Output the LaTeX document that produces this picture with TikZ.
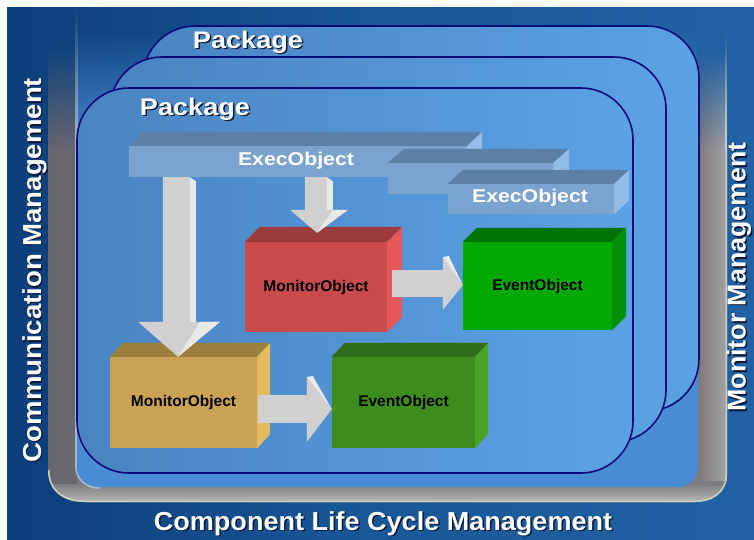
\documentclass[tikz,border=0pt]{standalone}
\usepackage{fontspec}
\setmainfont{Liberation Sans}
\usetikzlibrary{calc,fadings}
\definecolor{bgL}{HTML}{0C3E7A}
\definecolor{bgM}{HTML}{185898}
\definecolor{bgR}{HTML}{2062A4}
\definecolor{panelc}{HTML}{4A8CD4}
\definecolor{pkgL}{HTML}{4A84C2}
\definecolor{pkgR}{HTML}{5BA2E4}
\definecolor{pkgline}{HTML}{0A0A78}
\definecolor{bandc}{HTML}{807C80}
\definecolor{bandLo}{HTML}{66666C}
\definecolor{bandLm}{HTML}{8E8C90}
\definecolor{bandLi}{HTML}{6A686E}
\definecolor{bandRi}{HTML}{7E787C}
\definecolor{bandRm}{HTML}{6A6569}
\definecolor{bandRo}{HTML}{A4A4A6}
\definecolor{bandBi}{HTML}{7E7E82}
\definecolor{bandBm}{HTML}{9C9CA0}
\definecolor{bandBo}{HTML}{B8B8B4}
\definecolor{lineL}{HTML}{A4B6CA}
\definecolor{lineR}{HTML}{CCD2BC}
\definecolor{barF}{HTML}{7BA3CF}
\definecolor{barT}{HTML}{5B7FA5}
\definecolor{barS}{HTML}{93BDE8}
\definecolor{redF}{HTML}{C94B4B}
\definecolor{redT}{HTML}{9B3B3B}
\definecolor{redS}{HTML}{E35858}
\definecolor{grnF}{HTML}{00A800}
\definecolor{grnT}{HTML}{007400}
\definecolor{grnS}{HTML}{00900A}
\definecolor{tanF}{HTML}{C9A254}
\definecolor{tanT}{HTML}{9F7F3E}
\definecolor{tanS}{HTML}{E5BB62}
\definecolor{dgrF}{HTML}{3D8C1E}
\definecolor{dgrT}{HTML}{2F6D18}
\definecolor{dgrS}{HTML}{4AA326}
\definecolor{arrF}{HTML}{D0D0D0}
\definecolor{arrS}{HTML}{E9E9E9}
\definecolor{shadowc}{HTML}{0A1838}
\tikzfading[name=fadein, top color=transparent!100, bottom color=transparent!0]
\tikzset{
 pkgbox/.style={draw=pkgline, line width=1.6pt, left color=pkgL, right color=pkgR, rounded corners=52pt, inner sep=0pt},
 boxface/.style={inner sep=0pt, font=\bfseries\fontsize{15.5}{18}\selectfont, text=black},
 barbox/.style={fill=barF, inner sep=0pt, text=white, font=\bfseries\fontsize{18.5}{22}\selectfont},
 biglabel/.style={text=white, font=\bfseries\fontsize{24}{28}\selectfont, inner sep=0pt},
 shadowlabel/.style={biglabel, text=shadowc},
 sidelabel/.style={text=white, font=\bfseries\fontsize{26}{30}\selectfont, inner sep=0pt},
 sideshadow/.style={sidelabel, text=shadowc},
 arrowfront/.style={fill=arrF},
 arrowside/.style={fill=arrS},
 leftband/.style={left color=bandLo, middle color=bandLm, right color=bandLi},
 rightband/.style={left color=bandRi, middle color=bandRm, right color=bandRo},
}
\newcommand\cubefaces[5]{%
 \fill[#4] (#1.north west) -- ++(#2,-#3) -- ($(#1.north east)+(#2,-#3)$) -- (#1.north east) -- cycle;
 \fill[#5] (#1.north east) -- ++(#2,-#3) -- ($(#1.south east)+(#2,-#3)$) -- (#1.south east) -- cycle;}
\begin{document}
\begin{tikzpicture}[x=1pt,y=-1pt]
\useasboundingbox (0,0) rectangle (754,539);
\fill[white] (0,0) rectangle (754,539);
\shade[left color=bgL, right color=bgR, middle color=bgM] (7,7) rectangle (754,539);
% frame band
\begin{scope}[even odd rule]
\clip
 (48,150) -- (48,470) .. controls (48,490) and (62,502) .. (85,502) -- (695,502) .. controls (713,502) and (727,492) .. (727,475) -- (727,150) -- cycle
 (77,150) -- (77,466) .. controls (77,478) and (86,487) .. (100,487) -- (678,487) .. controls (690,487) and (698,478) .. (698,466) -- (698,150) -- cycle;
\fill[bandc] (40,140) rectangle (740,510);
\shade[leftband] (48,140) rectangle (77,484);
\shade[rightband] (698,140) rectangle (727,480);
\shade[top color=bandBi, middle color=bandBm, bottom color=bandBo] (40,484) rectangle (740,502);
\draw[lineR, line width=3pt] (727,150) -- (727,475) .. controls (727,492) and (713,502) .. (695,502) -- (85,502) .. controls (62,502) and (48,490) .. (48,470);
\draw[lineL, line width=4pt] (77,150) -- (77,466) .. controls (77,478) and (86,487) .. (100,487);
\end{scope}
% faded tops of the band
\shade[leftband, path fading=fadein] (48,45) rectangle (77,150.5);
\shade[rightband, path fading=fadein] (698,50) rectangle (727,150.5);
\fill[lineR, path fading=fadein] (724.5,30) rectangle (727,150.5);
% inner panel
\fill[panelc] (77,150) -- (77,466) .. controls (77,478) and (86,487) .. (100,487) -- (678,487) .. controls (690,487) and (698,478) .. (698,466) -- (698,150) -- cycle;
\fill[panelc, path fading=fadein] (77,30) rectangle (698,150.5);
\fill[lineL, path fading=fadein] (75,7) rectangle (77.5,150.5);
% packages
\node[pkgbox, minimum width=556pt, minimum height=385pt] (pkgBack) at (421,218.5) {};
\node[pkgbox, minimum width=556pt, minimum height=385pt] (pkgMid) at (388,249.5) {};
\node[pkgbox, minimum width=556pt, minimum height=385pt] (pkgFront) at (355,280.5) {};
\node[shadowlabel, anchor=base] (pkgBs) at (249.5,49.5) {\scalebox{1.13}[1]{Package}};
\node[biglabel, anchor=base] (pkgBl) at (248,48) {\scalebox{1.13}[1]{Package}};
\node[shadowlabel, anchor=base] (pkgFs) at (196.5,116.5) {\scalebox{1.13}[1]{Package}};
\node[biglabel, anchor=base] (pkgFl) at (195,115) {\scalebox{1.13}[1]{Package}};
% exec bars
\node[barbox, minimum width=338pt, minimum height=31pt] (exec1) at (298,161.5) {};
\cubefaces{exec1}{15}{14}{barT}{barS}
\node[barbox, minimum width=165pt, minimum height=31pt] (exec2) at (470.5,178.5) {};
\cubefaces{exec2}{16}{14}{barT}{barS}
\node[barbox, minimum width=166pt, minimum height=30pt] (exec3) at (531,199) {};
\cubefaces{exec3}{15}{14}{barT}{barS}
\node[barbox, fill=none] (exec1t) at (296,160.5) {\scalebox{1.15}[1]{ExecObject}};
\node[barbox, fill=none] (exec3t) at (530,198) {\scalebox{1.15}[1]{ExecObject}};
% boxes
\node[boxface, fill=redF, minimum width=142pt, minimum height=90pt] (mon1) at (316,287) {MonitorObject};
\cubefaces{mon1}{15}{15}{redT}{redS}
\node[boxface, fill=grnF, minimum width=149pt, minimum height=88pt] (ev1) at (537.5,286) {EventObject};
\cubefaces{ev1}{14}{14}{grnT}{grnS}
\node[boxface, fill=tanF, minimum width=147pt, minimum height=91pt] (mon2) at (183.5,402.5) {MonitorObject};
\cubefaces{mon2}{13}{14}{tanT}{tanS}
\node[boxface, fill=dgrF, minimum width=143pt, minimum height=91pt] (ev2) at (403.5,402.5) {EventObject};
\cubefaces{ev2}{13}{14}{dgrT}{dgrS}
% big arrow exec1 -> mon2
\coordinate (ba) at ($(exec1.south west)+(34,0)$);
\coordinate (bt) at ($(mon2.north)+(-5.5,0)$);
\fill[arrowfront] (ba) -- ($(ba)+(27,0)$) -- ($(bt)+(12,-35)$) -- ($(bt)+(-15,-35)$) -- cycle;
\fill[arrowside] ($(ba)+(27,0)$) -- ($(ba)+(33,4)$) -- ($(bt)+(18,-35)$) -- ($(bt)+(12,-35)$) -- cycle;
\fill[arrowfront] ($(bt)+(-40,-35)$) -- ($(bt)+(42,-35)$) -- (bt) -- cycle;
\fill[arrowside] ($(bt)+(22,-35)$) -- ($(bt)+(42,-35)$) -- (bt) -- cycle;
% small arrow exec1 -> mon1
\coordinate (sa) at ($(exec1.south west)+(176,0)$);
\coordinate (st) at ($(mon1.north)+(1,-9)$);
\fill[arrowfront] (sa) -- ($(sa)+(22,0)$) -- ($(st)+(10,-23)$) -- ($(st)+(-12,-23)$) -- cycle;
\fill[arrowside] ($(sa)+(22,0)$) -- ($(sa)+(28,4)$) -- ($(st)+(16,-23)$) -- ($(st)+(10,-23)$) -- cycle;
\fill[arrowfront] ($(st)+(-27,-23)$) -- ($(st)+(31,-23)$) -- (st) -- cycle;
\fill[arrowside] ($(st)+(16,-23)$) -- ($(st)+(31,-23)$) -- (st) -- cycle;
% horizontal arrow mon1 -> ev1
\coordinate (ha) at ($(mon1.east)+(5,-17)$);
\coordinate (ht) at ($(ev1.west)+(0,-1)$);
\fill[arrowfront] (ha) -- ($(ht)+(-20,-15)$) -- ($(ht)+(-20,12)$) -- ($(ha)+(0,27)$) -- cycle;
\fill[arrowfront] ($(ht)+(-20,-28)$) -- (ht) -- ($(ht)+(-20,25)$) -- cycle;
\fill[arrowside] ($(ht)+(-20,-28)$) -- ($(ht)+(-14,-29)$) -- (ht) -- cycle;
% horizontal arrow mon2 -> ev2
\coordinate (hb) at ($(mon2.east)+(0.5,-7.5)$);
\coordinate (hu) at ($(ev2.west)+(0,6.5)$);
\fill[arrowfront] (hb) -- ($(hu)+(-25,-14)$) -- ($(hu)+(-25,14)$) -- ($(hb)+(0,28)$) -- cycle;
\fill[arrowfront] ($(hu)+(-25,-32)$) -- (hu) -- ($(hu)+(-25,33)$) -- cycle;
\fill[arrowside] ($(hu)+(-25,-32)$) -- ($(hu)+(-19,-33)$) -- (hu) -- cycle;
% side labels
\node[sideshadow, anchor=base] (cls) at (384.5,531.5) {\scalebox{1.04}[1]{Component Life Cycle Management}};
\node[sidelabel, anchor=base] (cl) at (383,530) {\scalebox{1.04}[1]{Component Life Cycle Management}};
\node[sideshadow, rotate=90] (cms) at (36,271.5) {\scalebox{1.06}[1]{Communication Management}};
\node[sidelabel, rotate=90] (cm) at (34.5,270) {\scalebox{1.06}[1]{Communication Management}};
\node[sideshadow, rotate=90] (mms) at (740.5,278.5) {\scalebox{1.03}[1]{Monitor Management}};
\node[sidelabel, rotate=90] (mm) at (739,277) {\scalebox{1.03}[1]{Monitor Management}};
\end{tikzpicture}
\end{document}
